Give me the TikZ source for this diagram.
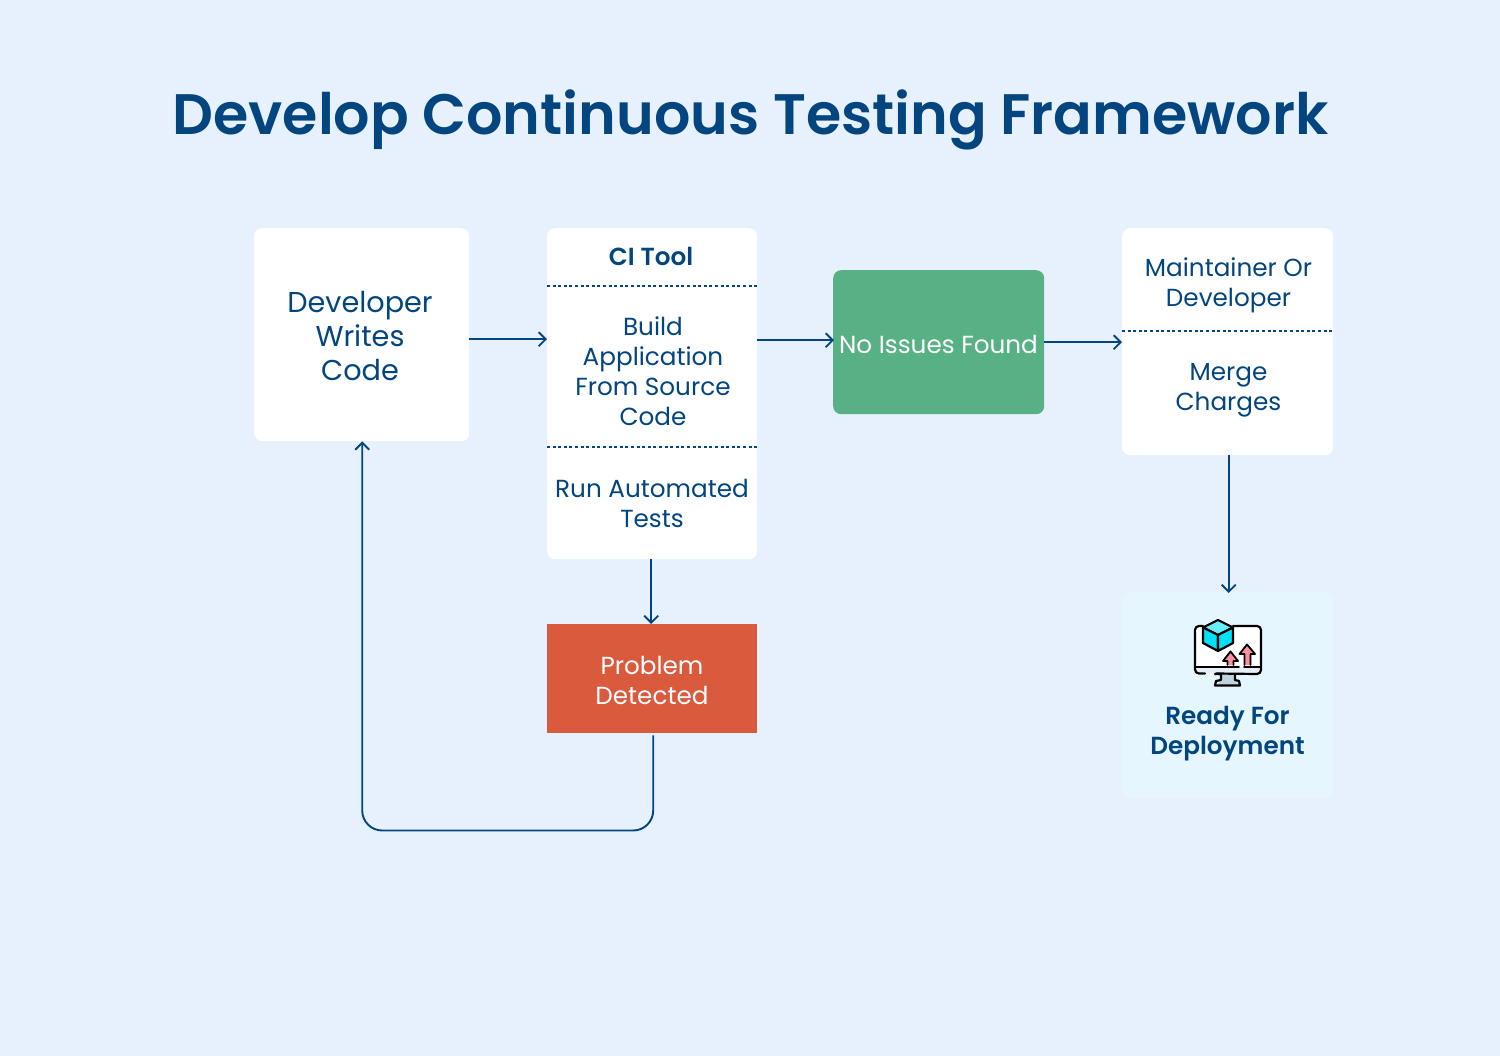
\documentclass[tikz,border=0pt]{standalone}
\usepackage{fontspec}
\setmainfont{Poppins}
\newfontfamily\semibf{Poppins}[UprightFont=* SemiBold]
\usetikzlibrary{arrows.meta}
\definecolor{bgc}{HTML}{E7F1FE}
\definecolor{navy}{HTML}{02457F}
\definecolor{greenc}{HTML}{57B185}
\definecolor{redc}{HTML}{D95A3D}
\definecolor{readyc}{HTML}{E6F6FE}
\definecolor{barc}{HTML}{E8EEF5}
\definecolor{standc}{HTML}{BCD3E0}
\definecolor{pinkc}{HTML}{FF8FA3}
\definecolor{cubetop}{HTML}{66EEFF}
\definecolor{cubec}{HTML}{00E1F7}
\tikzset{
  box/.style={fill=white,rounded corners=8pt,inner sep=0pt,anchor=north west},
  txt/.style={text=navy,align=center,inner sep=0pt,font=\fontsize{24.7}{30}\selectfont},
  flow/.style={draw=navy,line width=1.9pt,-{Straight Barb[length=7pt,width=14pt,line width=1.9pt]}},
  sep/.style={draw=navy,line width=1.6pt,dash pattern=on 3pt off 2.6pt},
  ink/.style={draw=black,line width=2.2pt,line join=round,line cap=round},
}
\begin{document}
\begin{tikzpicture}[x=1pt,y=-1pt]
\fill[bgc] (0,0) rectangle (1500,1056);
\useasboundingbox (0,0) rectangle (1500,1056);
\node[text=navy,inner sep=0pt,font=\fontsize{57.1}{66}\semibf] (title) at (750.5,120) {Develop Continuous Testing Framework};

\node[box,minimum width=215pt,minimum height=213pt] (dev) at (254,228) {};
\node[box,minimum width=210pt,minimum height=331pt] (ci) at (547,228) {};
\node[box,fill=greenc,minimum width=211pt,minimum height=144pt] (ok) at (833,270) {};
\node[box,minimum width=211pt,minimum height=227pt] (maint) at (1122,228) {};
\node[box,rounded corners=0pt,fill=redc,minimum width=210pt,minimum height=109pt] (prob) at (547,624) {};
\node[box,fill=readyc,minimum width=211pt,minimum height=206pt] (ready) at (1122,592) {};

\node[txt,font=\fontsize{28.7}{34}\selectfont] (devt) at (360,336.5) {Developer\\Writes\\Code};
\node[txt,font=\fontsize{24.7}{30}\semibf] (cit) at (651,256) {CI Tool};
\node[txt] (buildt) at (653,371.5) {Build\\Application\\From Source\\Code};
\node[txt] (runt) at (652,503) {Run Automated\\Tests};
\node[txt,text=white] (okt) at (938.5,344) {No Issues Found};
\node[txt] (maintt) at (1228.5,285) {Maintainer Or\\Developer};
\node[txt] (merget) at (1228.5,390) {Merge\\Charges};
\node[txt,text=white] (probt) at (652,680.5) {Problem\\Detected};
\node[txt,font=\fontsize{24.7}{30}\semibf] (readyt) at (1227.5,734) {Ready For\\Deployment};

\draw[sep] (ci.west |- 0,286) -- (ci.east |- 0,286);
\draw[sep] (ci.west |- 0,447) -- (ci.east |- 0,447);
\draw[sep] (maint.west |- 0,331) -- (maint.east |- 0,331);

\draw[flow] ([yshift=-4.5pt]dev.east) -- ([yshift=54.5pt]ci.west);
\draw[flow] ([yshift=53.5pt]ci.east) -- ([xshift=1pt,yshift=2pt]ok.west);
\draw[flow] (ok.east) -- ([yshift=-0.5pt]maint.west);
\draw[flow] ([xshift=-1pt]ci.south) -- ([xshift=-1pt]prob.north);
\draw[flow] ([xshift=1pt]maint.south) -- ([xshift=1pt,yshift=-1pt]ready.north);
\draw[flow,rounded corners=20pt] ([xshift=1pt,yshift=-2pt]prob.south) -- ([xshift=1pt]prob.south |- 0,830.5) -- ([xshift=0.5pt]dev.south |- 0,830.5) -- ([xshift=0.5pt]dev.south);

% monitor icon
\fill[white] (1195,627) rectangle (1260,667);
\fill[barc] (1195,667) rectangle (1260,673);
\fill[standc] (1222,674) -- (1234,674) -- (1235,681) -- (1240,685) -- (1216,685) -- (1221,681) -- cycle;
\draw[ink] (1205,673.5) -- (1199,673.5) arc[start angle=90,end angle=180,radius=4] -- (1195,630) arc[start angle=180,end angle=270,radius=4] -- (1203,626);
\draw[ink] (1233,626) -- (1257,626) arc[start angle=-90,end angle=0,radius=4] -- (1261,670) arc[start angle=0,end angle=90,radius=4] -- (1216,673.5);
\draw[ink,line width=1.6pt] (1195,667) -- (1239,667) (1244,667) -- (1261,667);
\draw[ink] (1215,674) -- (1221,674) -- (1221,680) -- (1216,681) -- (1215,685.5) -- (1240,685.5) -- (1239,681) -- (1235,680) -- (1235,674);
\fill[pinkc] (1247,645) -- (1254.5,654) -- (1251,654) -- (1251,665) -- (1244,665) -- (1244,654) -- (1240,654) -- cycle;
\draw[ink,line width=1.8pt] (1244.5,665) -- (1244.5,654) -- (1239.5,654) -- (1247,644.5) -- (1255,654) -- (1250.5,654) -- (1250.5,665);
\fill[pinkc] (1230.5,652) -- (1237,661) -- (1233,661) -- (1233,665) -- (1228,665) -- (1228,661) -- (1224,661) -- cycle;
\draw[ink,line width=1.8pt] (1227.5,665) -- (1227.5,661) -- (1223,661) -- (1230.5,651.5) -- (1238,661) -- (1233.5,661) -- (1233.5,665);
\filldraw[fill=cubetop,ink] (1218,620) -- (1233,627.5) -- (1218,635) -- (1203,627.5) -- cycle;
\filldraw[fill=cubec,ink] (1203,627.5) -- (1218,635) -- (1218,651) -- (1203,643) -- cycle;
\filldraw[fill=cubec,ink] (1233,627.5) -- (1218,635) -- (1218,651) -- (1233,643) -- cycle;
\end{tikzpicture}
\end{document}
